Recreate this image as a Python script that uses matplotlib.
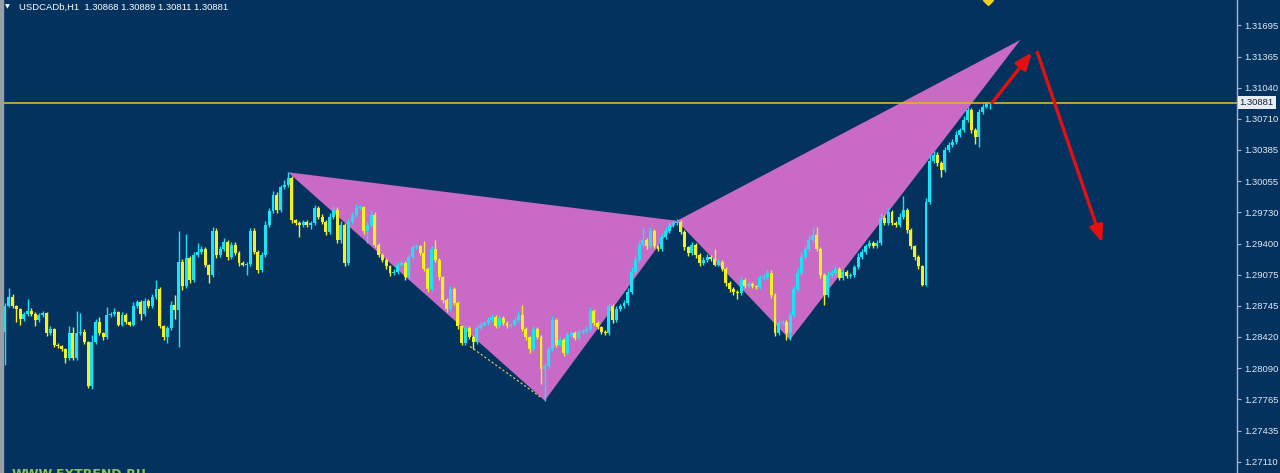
import numpy as np
import matplotlib
matplotlib.use("Agg")
import matplotlib.pyplot as plt
from matplotlib.patches import Rectangle

# USDCAD H1 closes (one per bar), open of each bar = previous close
first_open = 1.2847
closes = [
    1.2874, 1.2884, 1.2874, 1.2871, 1.2861, 1.2866, 1.2869, 1.2866, 1.2860, 1.2865,
    1.2867, 1.2846, 1.2850, 1.2834, 1.2832, 1.2829, 1.2820, 1.2846, 1.2820, 1.2846,
    1.2847, 1.2837, 1.2790, 1.2837, 1.2858, 1.2846, 1.2842, 1.2865, 1.2866, 1.2868,
    1.2855, 1.2865, 1.2858, 1.2855, 1.2874, 1.2879, 1.2866, 1.2880, 1.2874, 1.2884,
    1.2892, 1.2853, 1.2842, 1.2851, 1.2876, 1.2870, 1.2921, 1.2895, 1.2925, 1.2902,
    1.2928, 1.2931, 1.2934, 1.2918, 1.2907, 1.2953, 1.2928, 1.2934, 1.2942, 1.2926,
    1.2939, 1.2930, 1.2920, 1.2918, 1.2919, 1.2953, 1.2931, 1.2912, 1.2928, 1.2960,
    1.2974, 1.2991, 1.2975, 1.2999, 1.3002, 1.3009, 1.2965, 1.2962, 1.2960, 1.2963,
    1.2960, 1.2962, 1.2977, 1.2968, 1.2963, 1.2952, 1.2968, 1.2975, 1.2944, 1.2960,
    1.2920, 1.2963, 1.2970, 1.2977, 1.2978, 1.2953, 1.2960, 1.2970, 1.2939, 1.2928,
    1.2923, 1.2916, 1.2909, 1.2910, 1.2918, 1.2920, 1.2905, 1.2926, 1.2936, 1.2937,
    1.2930, 1.2913, 1.2892, 1.2934, 1.2923, 1.2905, 1.2881, 1.2871, 1.2892, 1.2878,
    1.2853, 1.2836, 1.2851, 1.2842, 1.2837, 1.2851, 1.2855, 1.2857, 1.2860, 1.2863,
    1.2853, 1.2862, 1.2857, 1.2853, 1.2855, 1.2860, 1.2865, 1.2850, 1.2842, 1.2829,
    1.2850, 1.2842, 1.2808, 1.2811, 1.2829, 1.2860, 1.2834, 1.2839, 1.2825, 1.2844,
    1.2846, 1.2841, 1.2847, 1.2848, 1.2850, 1.2869, 1.2857, 1.2852, 1.2847, 1.2846,
    1.2874, 1.2860, 1.2871, 1.2874, 1.2878, 1.2889, 1.2910, 1.2923, 1.2939, 1.2944,
    1.2937, 1.2953, 1.2937, 1.2934, 1.2947, 1.2953, 1.2960, 1.2962, 1.2963, 1.2952,
    1.2936, 1.2930, 1.2939, 1.2928, 1.2920, 1.2923, 1.2926, 1.2924, 1.2918, 1.2921,
    1.2913, 1.2899, 1.2892, 1.2889, 1.2888, 1.2902, 1.2895, 1.2898, 1.2895, 1.2894,
    1.2904, 1.2905, 1.2909, 1.2886, 1.2846, 1.2857, 1.2858, 1.2846, 1.2865, 1.2892,
    1.2909, 1.2926, 1.2934, 1.2944, 1.2949, 1.2934, 1.2907, 1.2886, 1.2907, 1.2909,
    1.2913, 1.2904, 1.2910, 1.2906, 1.2907, 1.2915, 1.2926, 1.2931, 1.2937, 1.2941,
    1.2937, 1.2941, 1.2967, 1.2962, 1.2973, 1.2962, 1.2960, 1.2968, 1.2975, 1.2954,
    1.2937, 1.2926, 1.2916, 1.2897, 1.2984, 1.3027, 1.3033, 1.3025, 1.3017, 1.3038,
    1.3044, 1.3047, 1.3054, 1.3059, 1.3070, 1.3080, 1.3059, 1.3052, 1.3078, 1.3084,
    1.30868, 1.30881,
]

# upper / lower shadow length of each bar, in pips
wick_up = [
    4, 9, 3, 2, 1, 2, 13, 3, 2, 2,
    2, 1, 3, 1, 2, 1, 1, 7, 6, 23,
    20, 3, 1, 7, 3, 5, 1, 8, 2, 4,
    1, 3, 2, 1, 5, 2, 2, 3, 2, 3,
    10, 2, 1, 2, 4, 10, 32, 3, 25, 2,
    3, 10, 4, 2, 1, 5, 3, 3, 4, 2,
    3, 3, 2, 2, 2, 3, 3, 2, 3, 4,
    3, 4, 3, 3, 5, 6, 2, 1, 2, 2,
    2, 2, 4, 3, 3, 2, 4, 5, 3, 4,
    2, 4, 3, 5, 3, 2, 3, 5, 3, 2,
    2, 2, 2, 3, 3, 3, 2, 3, 3, 3,
    2, 13, 2, 4, 10, 2, 1, 2, 3, 2,
    2, 1, 3, 2, 2, 3, 3, 2, 3, 3,
    2, 3, 2, 2, 2, 3, 4, 11, 2, 1,
    3, 2, 2, 4, 3, 4, 2, 3, 2, 3,
    2, 2, 3, 2, 3, 4, 2, 2, 1, 2,
    4, 3, 3, 3, 3, 4, 5, 4, 4, 13,
    2, 4, 2, 2, 3, 4, 3, 3, 3, 2,
    2, 2, 3, 2, 2, 3, 3, 2, 10, 3,
    2, 2, 2, 2, 2, 4, 2, 3, 2, 2,
    3, 3, 4, 3, 2, 3, 2, 2, 3, 4,
    5, 5, 4, 5, 9, 9, 2, 2, 4, 3,
    3, 2, 3, 2, 2, 3, 4, 3, 3, 3,
    2, 3, 5, 3, 4, 2, 2, 4, 15, 2,
    2, 2, 2, 2, 4, 6, 4, 3, 2, 4,
    3, 3, 4, 3, 4, 4, 2, 2, 3, 3,
    2, 0.8,
]
wick_dn = [
    34, 1, 2, 13, 6, 2, 2, 2, 7, 2,
    2, 3, 2, 3, 2, 2, 5, 2, 2, 2,
    2, 2, 2, 3, 2, 2, 3, 2, 2, 2,
    2, 2, 2, 2, 2, 2, 6, 2, 2, 2,
    2, 2, 3, 6, 2, 9, 39, 4, 2, 3,
    2, 2, 2, 3, 8, 2, 3, 2, 2, 3,
    2, 2, 3, 2, 11, 2, 2, 3, 2, 2,
    2, 2, 3, 2, 2, 2, 3, 2, 13, 2,
    2, 5, 2, 2, 2, 3, 2, 2, 3, 3,
    3, 2, 2, 2, 2, 3, 12, 2, 3, 2,
    2, 3, 3, 2, 2, 2, 3, 2, 2, 2,
    2, 2, 3, 2, 2, 3, 3, 3, 2, 2,
    3, 3, 2, 2, 8, 2, 2, 2, 2, 2,
    2, 2, 2, 2, 2, 2, 2, 2, 3, 4,
    2, 2, 15, 33, 2, 2, 3, 2, 3, 2,
    2, 2, 2, 2, 2, 2, 2, 2, 2, 2,
    2, 3, 2, 2, 2, 2, 2, 2, 2, 2,
    3, 2, 2, 2, 2, 2, 2, 2, 2, 2,
    3, 3, 2, 3, 3, 2, 2, 2, 2, 2,
    2, 3, 3, 3, 6, 2, 2, 2, 2, 2,
    2, 2, 2, 3, 3, 2, 2, 7, 7, 2,
    2, 2, 2, 2, 2, 2, 3, 10, 2, 2,
    2, 2, 2, 2, 2, 2, 2, 2, 2, 2,
    2, 2, 2, 2, 2, 2, 3, 2, 2, 3,
    3, 3, 3, 2, 2, 2, 2, 3, 7, 2,
    2, 2, 2, 2, 2, 2, 3, 7, 10, 2,
    2, 5.7,
]

# harmonic pattern points (bar index, price): X, A, B, C, D
pattern_bars = [75, 143, 178, 208, 269]
pattern_prices = [1.3015, 1.2775, 1.2964, 1.2839, 1.3154]

# projected move: up to 1.3141 then down to 1.2941
arrow_bars = [261.5, 272.1, 273.5, 290.7]
arrow_prices = [1.3088, 1.3141, 1.3141, 1.2941]

# dotted line under the A leg
dot_bars = [123.2, 141.8]
dot_prices = [1.2832, 1.2779]

last_price = 1.30881
price_ticks = [1.31695, 1.31365, 1.31040, 1.30710, 1.30385, 1.30055, 1.29730,
               1.29400, 1.29075, 1.28745, 1.28420, 1.28090, 1.27765, 1.27435, 1.27110]
title = "USDCADb,H1  1.30868 1.30889 1.30811 1.30881"

bg = "#04325f"
bull = "#19e3f5"
bear = "#f5f01e"
pink = "#c86ac6"

n = len(closes)
c = np.array(closes)
o = np.concatenate([[first_open], c[:-1]])
hi = np.maximum(o, c) + np.array(wick_up) * 0.0001
lo = np.minimum(o, c) - np.array(wick_dn) * 0.0001
idx = np.arange(n)

fig = plt.figure(figsize=(12.8, 4.73), dpi=100, facecolor=bg)
ax = fig.add_axes([3 / 1280, 0, 1234 / 1280, 1])
ax.set_facecolor(bg)
fig.patches.append(Rectangle((0, 0), 3 / 1280, 1, transform=fig.transFigure,
                             color="#9a9fa6", zorder=0))

# pattern triangles XAB and BCD
ax.fill(pattern_bars[0:3], pattern_prices[0:3], color=pink, lw=0, zorder=1)
ax.fill(pattern_bars[2:5], pattern_prices[2:5], color=pink, lw=0, zorder=1)
ax.plot(dot_bars, dot_prices, color="#e8d850", lw=0.8, ls=(0, (2, 2)), zorder=2)

# candles
up = c >= o
cols = np.where(up, bull, bear)
ax.vlines(idx, lo, hi, colors=cols, lw=1.0, zorder=3)
body = np.maximum(np.abs(c - o), 0.00005)
ax.bar(idx, body, bottom=np.minimum(o, c), width=0.78, color=cols, lw=0, zorder=3)

ax.axhline(last_price, color="#dcb234", lw=1.2, zorder=4)

# red arrows
for k in (0, 2):
    ax.annotate("", xy=(arrow_bars[k + 1], arrow_prices[k + 1]),
                xytext=(arrow_bars[k], arrow_prices[k]),
                arrowprops=dict(arrowstyle="-|>,head_length=1.0,head_width=0.4",
                                color="#e21010", lw=2.4, shrinkA=0, shrinkB=0),
                zorder=5)

# small marker at the top edge
ax.plot([260.5], [1.3196], marker="D", ms=5, color="#f2d21a", zorder=6, clip_on=True)

ax.set_xlim(-0.53, 326.4)
ax.set_ylim(1.2699, 1.3196)

for s in ("left", "top", "bottom"):
    ax.spines[s].set_visible(False)
ax.spines["right"].set_color("#a8b6cc")
ax.spines["right"].set_linewidth(1)
ax.set_xticks([])
ax.yaxis.tick_right()
ax.set_yticks(price_ticks)
ax.set_yticklabels([f"{t:.5f}" for t in price_ticks])
ax.tick_params(axis="y", colors="#a8b6cc", labelcolor="#e2e8f0", length=3,
               width=0.8, pad=2, labelsize=6.8)
for lab in ax.get_yticklabels():
    lab.set_family(["Liberation Sans", "DejaVu Sans"])

ax.annotate(f"{last_price:.5f}", xy=(1, last_price),
            xycoords=("axes fraction", "data"), xytext=(2, 0),
            textcoords="offset points", va="center", ha="left", fontsize=6.8,
            family=["Liberation Sans", "DejaVu Sans"], color="#12203a",
            bbox=dict(boxstyle="square,pad=0.18", fc="#e8edf3", ec="none"),
            annotation_clip=False, zorder=7)

fig.text(5 / 1280, 1 - 7 / 473, "\u25bc", fontsize=4.5, color="white", va="center")
fig.text(19 / 1280, 1 - 7 / 473, title, fontsize=6.8, color="white", va="center",
         family=["Liberation Sans", "DejaVu Sans"])

# watermark, cut off by the bottom edge as in the source screenshot
fig.text(12 / 1280, 5 / 473, "WWW.FXTREND.RU", fontsize=9, fontweight="bold",
         color="#8fc060", va="top")

fig.savefig("out.png", dpi=100, facecolor=bg)
